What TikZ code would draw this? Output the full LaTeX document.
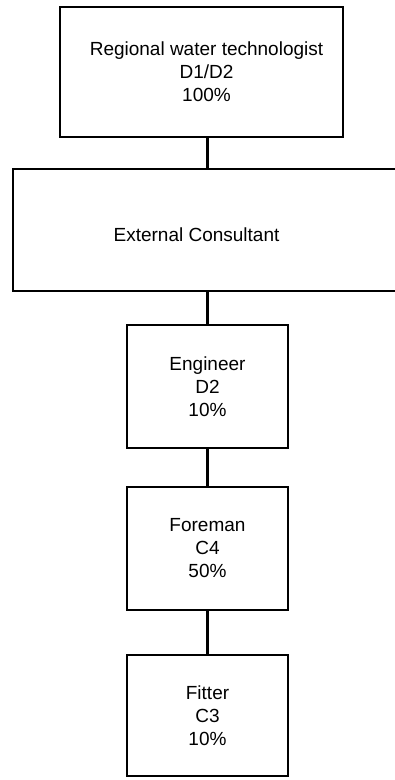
\documentclass[tikz,border=0pt]{standalone}
\usepackage{fontspec}
\setsansfont{Liberation Sans}
\usetikzlibrary{positioning}

\begin{document}
\begin{tikzpicture}[
    x=1pt, y=1pt,
    rolebox/.style={draw, line width=2.2pt, align=center, outer sep=0pt,
                    font=\sffamily\fontsize{19}{23}\selectfont,
                    minimum width=161pt, minimum height=123pt},
    link/.style={line width=2.2pt}
  ]
  \useasboundingbox (0,0) rectangle (395,-780);

  \node[rolebox, minimum width=283pt, minimum height=130pt,
        label={[font=\sffamily\fontsize{19}{23}\selectfont, align=center,
                xshift=5pt]center:Regional water technologist\\D1/D2\\100\%}]
    (regional) at (201.5,-72) {};
  \node[rolebox, minimum width=389pt, minimum height=122pt,
        label={[font=\sffamily\fontsize{19}{23}\selectfont,
                xshift=-11pt, yshift=-5pt]center:External Consultant}]
    (consultant) at (207.5,-230) {};
  \node[rolebox, below=34pt of consultant] (engineer) {Engineer\\D2\\10\%};
  \node[rolebox, below=39pt of engineer] (foreman) {Foreman\\C4\\50\%};
  \node[rolebox, minimum height=121pt, below=45pt of foreman] (fitter)
    {Fitter\\C3\\10\%};

  \draw[link] (regional.south -| engineer.north) -- (consultant.north -| engineer.north);
  \draw[link] (consultant.south -| engineer.north) -- (engineer.north);
  \draw[link] (engineer) -- (foreman);
  \draw[link] (foreman) -- (fitter);
\end{tikzpicture}
\end{document}
